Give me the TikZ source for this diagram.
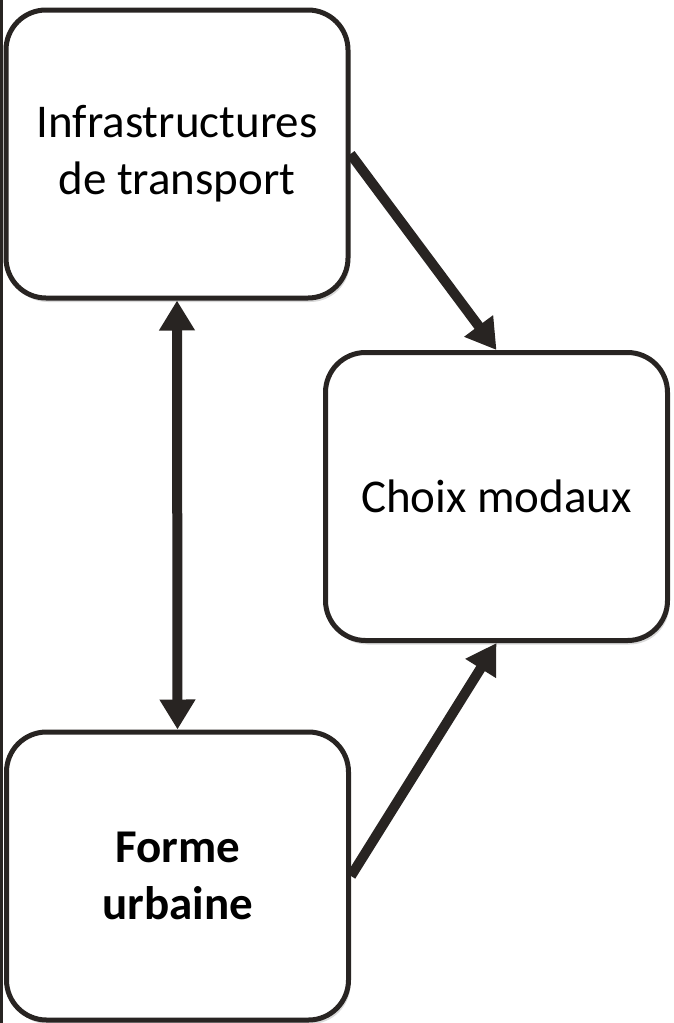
\documentclass[tikz,border=0pt]{standalone}
\usepackage{fontspec}
\setmainfont{Carlito}
\usetikzlibrary{arrows.meta,shadows}
\definecolor{inkdark}{RGB}{40,36,34}
\tikzset{
  box/.style={draw=inkdark, line width=5pt, rounded corners=40pt, fill=white,
    minimum width=342pt, minimum height=288pt, align=center,
    font=\fontsize{47}{57}\selectfont,
    drop shadow={opacity=0.3, shadow xshift=2pt, shadow yshift=-4pt}},
  link/.style={draw=inkdark, line width=10pt, -{Triangle[length=30pt,width=34pt]}}
}
\begin{document}
\begin{tikzpicture}[x=1pt,y=-1pt]
\useasboundingbox (0,0) rectangle (673,1023);

% Left border
\draw[inkdark, line width=3pt] (1.5,0) -- (1.5,1023);

% Boxes
\node[box] (infra) at (177,154) {Infrastructures\\de transport};
\node[box] (choix) at (496.5,496.5) {Choix modaux};
\node[box] (forme) at (177.5,876) {\bfseries Forme\\\bfseries urbaine};

% Links
\draw[link, {Triangle[length=30pt,width=34pt]}-{Triangle[length=30pt,width=34pt]}] (infra.south) -- (forme.north);
\draw[link] (infra.east) -- (choix.north);
\draw[link] (forme.east) -- (choix.south);

\end{tikzpicture}
\end{document}
